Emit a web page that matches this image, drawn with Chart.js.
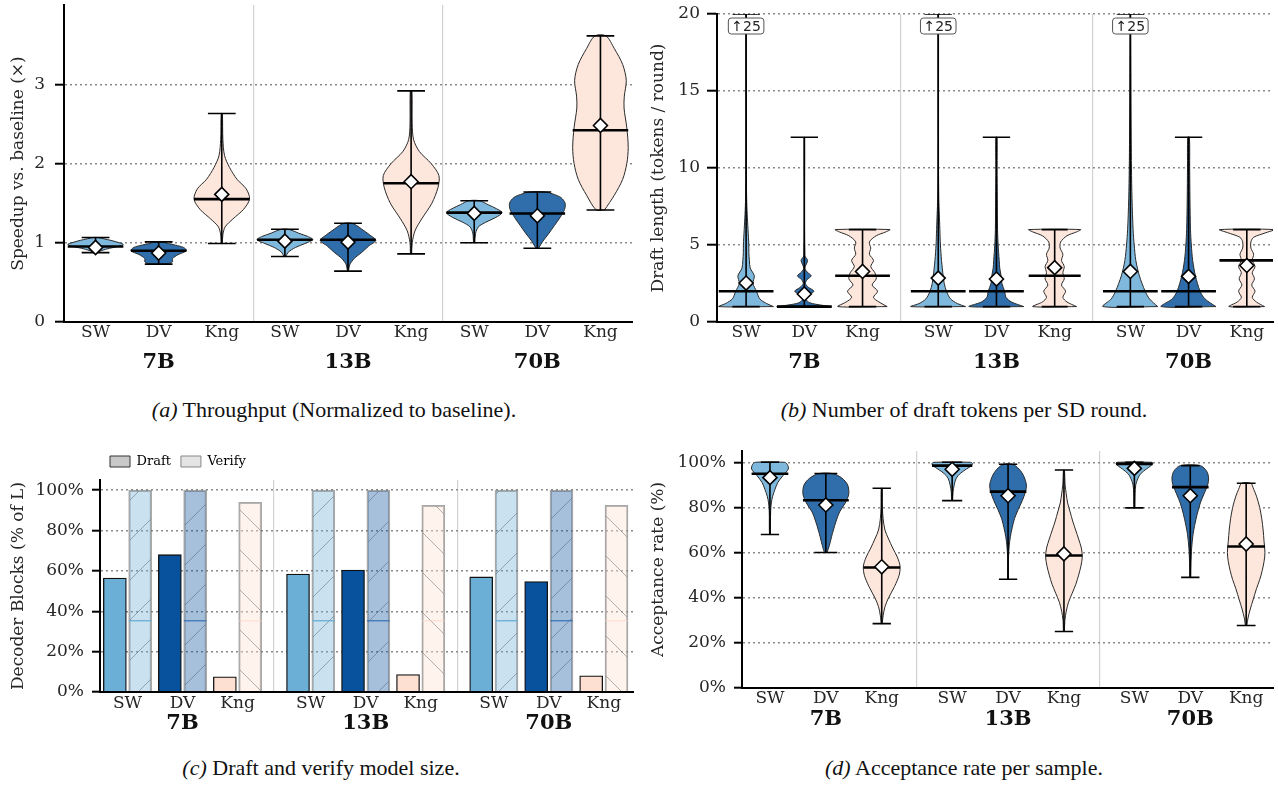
<!DOCTYPE html>
<html>
<head>
<meta charset="utf-8">
<script src="https://cdn.jsdelivr.net/npm/chart.js@4.4.1/dist/chart.umd.min.js"></script>
<style>
    body { margin: 0; background: #fff; }
    #page { position: relative; width: 1278px; height: 786px; overflow: hidden; }
    canvas { position: absolute; }
    .caption {
        position: absolute; width: 640px; line-height: 24px; text-align: center;
        font-family: 'Liberation Serif', 'Times New Roman', serif; font-size: 22px; color: #111;
    }
</style>
</head>
<body>
<div id="page">
    <canvas id="speedupChart" width="640" height="385" style="left:0;top:0"></canvas>
    <canvas id="draftLenChart" width="638" height="385" style="left:640px;top:0"></canvas>
    <canvas id="blocksChart" width="640" height="320" style="left:0;top:430px"></canvas>
    <canvas id="acceptChart" width="638" height="320" style="left:640px;top:430px"></canvas>
    <div class="caption" style="left:14px;top:398px"><i>(a)</i> Throughput (Normalized to baseline).</div>
    <div class="caption" style="left:644px;top:398px"><i>(b)</i> Number of draft tokens per SD round.</div>
    <div class="caption" style="left:1px;top:756px"><i>(c)</i> Draft and verify model size.</div>
    <div class="caption" style="left:644px;top:756px"><i>(d)</i> Acceptance rate per sample.</div>
</div>
<script>
const categories = ['SW', 'DV', 'Kng'];
const groups = ['7B', '13B', '70B'];

// every series below is ordered 7B SW, DV, Kng, 13B SW, DV, Kng, 70B SW, DV, Kng

// (a) speedup vs baseline
const speedupMin = [0.875, 0.73, 0.99, 0.826, 0.642, 0.86, 1.0, 0.93, 1.414];
const speedupMax = [1.066, 1.011, 2.63, 1.171, 1.247, 2.917, 1.53, 1.64, 3.61];
const speedupMedian = [0.952, 0.9, 1.55, 1.037, 1.037, 1.75, 1.38, 1.37, 2.42];
const speedupMean = [0.94, 0.87, 1.61, 1.02, 1.008, 1.77, 1.37, 1.34, 2.48];
// density profile: [value, relative half width]
const speedupShape = [
    [[0.875, 0.04], [0.9, 0.2], [0.93, 0.5], [0.96, 0.9], [0.98, 1], [1.0, 0.85], [1.03, 0.55], [1.05, 0.3], [1.066, 0.08]],
    [[0.73, 0.3], [0.76, 0.5], [0.8, 0.5], [0.85, 0.7], [0.9, 1], [0.94, 0.9], [0.97, 0.6], [0.99, 0.35], [1.011, 0.1]],
    [[0.99, 0.02], [1.1, 0.04], [1.2, 0.12], [1.3, 0.4], [1.42, 0.78], [1.55, 1], [1.68, 0.88], [1.8, 0.55], [1.95, 0.28], [2.1, 0.1], [2.3, 0.04], [2.63, 0.02]],
    [[0.826, 0.03], [0.88, 0.12], [0.94, 0.38], [0.99, 0.72], [1.04, 1], [1.08, 0.82], [1.12, 0.5], [1.15, 0.3], [1.171, 0.1]],
    [[0.642, 0.02], [0.72, 0.06], [0.8, 0.22], [0.88, 0.5], [0.96, 0.75], [1.03, 1], [1.1, 0.78], [1.17, 0.5], [1.22, 0.3], [1.247, 0.12]],
    [[0.86, 0.02], [1.0, 0.04], [1.15, 0.14], [1.3, 0.38], [1.5, 0.75], [1.7, 0.97], [1.85, 1], [2.0, 0.72], [2.15, 0.3], [2.3, 0.09], [2.5, 0.04], [2.917, 0.03]],
    [[1.0, 0.02], [1.12, 0.05], [1.2, 0.15], [1.26, 0.42], [1.32, 0.78], [1.38, 1], [1.43, 0.8], [1.48, 0.5], [1.53, 0.2]],
    [[0.93, 0.04], [1.02, 0.2], [1.12, 0.42], [1.22, 0.62], [1.32, 0.82], [1.42, 0.98], [1.5, 1], [1.57, 0.85], [1.61, 0.6], [1.64, 0.3]],
    [[1.414, 0.15], [1.6, 0.5], [1.8, 0.8], [2.0, 0.95], [2.2, 1], [2.45, 0.95], [2.7, 0.85], [2.85, 0.86], [3.05, 0.93], [3.25, 0.8], [3.45, 0.5], [3.61, 0.2]]
];

// (b) draft tokens per SD round
const draftLenMin = [1, 1, 1, 1, 1, 1, 1, 1, 1];
const draftLenMax = [25, 12, 6, 25, 12, 6, 25, 12, 6];
const draftLenMedian = [2, 1, 3, 2, 2, 3, 2, 2, 4];
const draftLenMean = [2.53, 1.82, 3.28, 2.85, 2.79, 3.53, 3.28, 2.96, 3.67];
const draftLenShape = [
    [[1, 1], [1.2, 0.75], [1.5, 0.5], [2, 0.38], [2.5, 0.25], [3, 0.3], [3.5, 0.15], [4, 0.12], [4.5, 0.1], [5, 0.1], [6, 0.07], [7, 0.04], [8, 0.02], [10, 0.01], [25, 0.01]],
    [[1, 1], [1.1, 0.6], [1.25, 0.2], [1.5, 0.05], [1.75, 0.15], [2, 0.35], [2.25, 0.15], [2.5, 0.04], [2.75, 0.1], [3, 0.25], [3.25, 0.1], [3.5, 0.02], [4, 0.12], [4.3, 0.02], [12, 0.01]],
    [[1, 0.9], [1.3, 0.6], [1.6, 0.4], [2, 0.55], [2.4, 0.35], [2.8, 0.5], [3.2, 0.45], [3.6, 0.3], [4, 0.4], [4.4, 0.25], [4.8, 0.3], [5.2, 0.25], [5.6, 0.5], [5.85, 0.85], [6, 1]],
    [[1, 1], [1.2, 0.7], [1.5, 0.45], [2, 0.3], [2.5, 0.22], [3, 0.18], [4, 0.12], [5, 0.08], [6, 0.06], [7, 0.04], [8, 0.02], [10, 0.01], [25, 0.01]],
    [[1, 1], [1.3, 0.55], [1.6, 0.35], [2, 0.3], [2.5, 0.2], [3, 0.17], [3.5, 0.12], [4, 0.1], [4.5, 0.08], [5, 0.06], [6, 0.04], [8, 0.03], [10, 0.02], [12, 0.02]],
    [[1, 0.8], [1.3, 0.45], [1.6, 0.3], [2, 0.4], [2.4, 0.25], [2.8, 0.35], [3.2, 0.3], [3.6, 0.35], [4, 0.25], [4.4, 0.3], [4.8, 0.2], [5.2, 0.22], [5.6, 0.45], [5.85, 0.8], [6, 0.95]],
    [[1, 1], [1.5, 0.7], [2, 0.54], [3, 0.33], [4, 0.2], [5, 0.14], [6, 0.1], [8, 0.06], [10, 0.04], [12, 0.03], [15, 0.02], [20, 0.01], [25, 0.01]],
    [[1, 1], [1.5, 0.6], [2, 0.42], [3, 0.25], [4, 0.15], [5, 0.1], [6, 0.07], [8, 0.05], [10, 0.04], [12, 0.03]],
    [[1, 0.65], [1.3, 0.35], [1.6, 0.2], [2, 0.3], [2.4, 0.18], [2.8, 0.28], [3.2, 0.2], [3.6, 0.3], [4, 0.2], [4.4, 0.25], [4.8, 0.15], [5.2, 0.15], [5.5, 0.25], [5.8, 0.7], [6, 1]]
];

// (c) decoder blocks, % of L
const draftBlocks = [56.4, 68, 7.5, 58.4, 60.4, 8.6, 57, 54.7, 8];
const verifyBlocks = [100, 100, 94, 100, 100, 92.5, 100, 100, 92.5];
const verifySplit = [35.3, 35.3, 35.3, 35.3, 35.3, 35.3, 35.3, 35.3, 35.3];

// (d) acceptance rate, %
const acceptMin = [68, 60, 28.5, 83, 48.2, 25, 79.8, 49, 27.7];
const acceptMax = [100, 95, 88.5, 100, 99.1, 96.6, 100, 98.5, 90.7];
const acceptMedian = [94.9, 83.2, 53.4, 98.5, 87, 58.7, 99.3, 89, 62.7];
const acceptMean = [93.2, 81.1, 53.7, 96.9, 85.2, 59.4, 97.3, 85.2, 63.8];
const acceptShape = [
    [[68, 0.02], [78, 0.03], [82, 0.06], [85, 0.12], [88, 0.22], [91, 0.34], [94, 0.56], [97, 0.8], [99, 0.76], [100, 0.64]],
    [[60, 0.05], [63, 0.15], [67, 0.25], [70, 0.33], [74, 0.45], [78, 0.6], [82, 0.85], [86, 1], [90, 0.95], [93, 0.7], [95, 0.3]],
    [[28.5, 0.02], [32, 0.06], [36, 0.14], [40, 0.3], [45, 0.56], [50, 0.76], [54, 0.8], [58, 0.68], [62, 0.48], [66, 0.3], [70, 0.14], [75, 0.06], [80, 0.03], [88.5, 0.02]],
    [[83, 0.02], [87, 0.04], [90, 0.09], [93, 0.18], [95, 0.35], [97, 0.62], [98.5, 0.84], [99.5, 0.88], [100, 0.8]],
    [[48.2, 0.02], [58, 0.02], [63, 0.05], [67, 0.1], [71, 0.18], [75, 0.28], [79, 0.44], [83, 0.62], [87, 0.76], [90, 0.8], [94, 0.68], [97, 0.48], [99.1, 0.2]],
    [[25, 0.02], [30, 0.04], [34, 0.1], [38, 0.2], [42, 0.36], [46, 0.52], [50, 0.64], [54, 0.74], [58, 0.8], [62, 0.76], [66, 0.64], [70, 0.51], [74, 0.38], [78, 0.27], [82, 0.16], [86, 0.1], [90, 0.05], [96.6, 0.02]],
    [[79.8, 0.02], [86, 0.03], [90, 0.06], [93, 0.16], [95, 0.28], [97, 0.52], [98.5, 0.72], [99.5, 0.8], [100, 0.76]],
    [[49, 0.02], [55, 0.03], [62, 0.06], [68, 0.12], [72, 0.19], [77, 0.3], [82, 0.44], [86, 0.6], [90, 0.76], [93, 0.8], [96, 0.72], [98.5, 0.44]],
    [[27.7, 0.03], [31, 0.08], [35, 0.18], [39, 0.3], [44, 0.45], [48, 0.59], [52, 0.7], [56, 0.78], [60, 0.82], [65, 0.78], [70, 0.74], [75, 0.68], [80, 0.59], [85, 0.45], [88, 0.33], [90.7, 0.2]]
];

const violinColors = ['#7fb8dd', '#2f6eab', '#fde6dc'];
const barColors = ['#6baed6', '#08519c', '#fee0d2'];
const verifyColors = ['rgba(107,174,214,0.36)', 'rgba(8,81,156,0.36)', 'rgba(254,224,210,0.4)'];
const splitColors = ['rgba(107,174,214,0.9)', 'rgba(50,110,180,0.8)', 'rgba(253,210,195,0.5)'];

const serif = "'DejaVu Serif', serif";
const tickFont = {family: serif, size: 17};
const groupFont = {family: serif, size: 21, weight: 'bold'};

// x slot of each violin / bar pair, groups separated by a wider gap
function slots(gap) {
    const out = [];
    groups.forEach((g, gi) => categories.forEach((c, ci) => out.push(gi * gap + ci)));
    return out;
}

function buildScales(p) {
    const edge = {type: 'linear', min: -0.5, max: p.xMax, bounds: 'data', offset: false};

    return {
        x: {
            ...edge,
            weight: 0,
            grid: {display: false, drawTicks: false, offset: false},
            border: {color: '#000', width: 2, z: 1},
            ticks: {
                autoSkip: false, maxRotation: 0, padding: p.tickPad, color: '#262626', font: tickFont,
                callback: (v, i) => categories[i % categories.length]
            },
            afterBuildTicks: s => { s.ticks = p.pos.map(value => ({value})); },
            afterFit: s => { s.height = p.xHeight; s.paddingLeft = 0; s.paddingRight = 0; }
        },
        xg: {
            ...edge,
            position: 'bottom',
            weight: 1,
            grid: {display: false, drawTicks: false, offset: false},
            border: {display: false},
            ticks: {
                autoSkip: false, maxRotation: 0, padding: p.groupPad, color: '#111', font: groupFont,
                callback: (v, i) => groups[i]
            },
            afterBuildTicks: s => { s.ticks = groups.map((g, gi) => ({value: p.pos[gi * 3 + 1]})); },
            afterFit: s => { s.height = p.groupHeight; s.paddingLeft = 0; s.paddingRight = 0; }
        },
        xs: {
            ...edge,
            position: 'top',
            grid: {color: '#d2d2d2', lineWidth: 1.2, drawTicks: false, offset: false},
            border: {display: false},
            ticks: {display: false},
            afterBuildTicks: s => {
                s.ticks = [(p.pos[2] + p.pos[3]) / 2, (p.pos[5] + p.pos[6]) / 2].map(value => ({value}));
            },
            afterFit: s => { s.height = p.topGap || 0; }
        },
        y: {
            type: 'linear',
            min: p.yMin,
            max: p.yMax,
            bounds: 'data',
            grid: {color: '#8a8a8a', lineWidth: 1.4, tickLength: p.tickLen, tickColor: '#000', tickWidth: 2},
            border: {color: '#000', width: 2, dash: [2, 3]},
            ticks: {stepSize: p.yStep, padding: p.yPad, color: '#262626', font: tickFont, callback: p.yFormat},
            title: {display: true, text: p.yLabel, color: '#262626', font: tickFont, padding: {top: 8, bottom: 0}},
            afterBuildTicks: s => { s.ticks = s.ticks.filter(t => t.value <= p.yTop); },
            afterFit: s => { s.width = p.yWidth; s.paddingTop = 0; s.paddingBottom = 0; }
        }
    };
}

function violinPanel(id, p, plugins) {
    const halfWidths = p.shapes.map(shape => Math.max(...shape.map(r => r[1])) * p.halfWidth);

    const bodies = p.shapes.map((shape, k) => {
        const right = shape.map(([v, w]) => ({x: p.pos[k] + w * p.halfWidth, y: v}));
        const left = shape.slice().reverse().map(([v, w]) => ({x: p.pos[k] - w * p.halfWidth, y: v}));
        return {
            type: 'line',
            data: [...right, ...left, right[0]],
            backgroundColor: violinColors[k % 3],
            borderColor: '#2a2a2a',
            borderWidth: 1,
            fill: 'shape',
            tension: 0.3,
            pointRadius: 0,
            order: 3
        };
    });

    const whiskers = [];
    const medians = [];
    p.pos.forEach((x, k) => {
        const hi = Math.min(p.maxs[k], p.yMax);
        const lo = p.mins[k];
        const cap = halfWidths[k] / 2;
        whiskers.push({x, y: lo}, {x, y: hi}, {x, y: null},
            {x: x - cap, y: lo}, {x: x + cap, y: lo}, {x, y: null},
            {x: x - cap, y: hi}, {x: x + cap, y: hi}, {x, y: null});
        medians.push({x: x - halfWidths[k], y: p.medians[k]}, {x: x + halfWidths[k], y: p.medians[k]}, {x, y: null});
    });

    const datasets = [
        {
            type: 'line',
            data: p.pos.map((x, k) => ({x, y: p.means[k]})),
            showLine: false,
            pointStyle: 'rectRot',
            pointRadius: 7,
            pointBackgroundColor: '#fff',
            pointBorderColor: '#000',
            pointBorderWidth: 1.6,
            order: 0
        },
        {type: 'line', data: medians, borderColor: '#000', borderWidth: 2.6, pointRadius: 0, order: 1},
        {type: 'line', data: whiskers, borderColor: '#000', borderWidth: 1.6, pointRadius: 0, order: 2},
        ...bodies
    ];

    return new Chart(document.getElementById(id), {
        type: 'line',
        data: {datasets},
        options: {
            responsive: false,
            animation: false,
            events: [],
            layout: {padding: p.padding, autoPadding: false},
            scales: buildScales(p),
            plugins: {legend: {display: false}, tooltip: {enabled: false}}
        },
        plugins: plugins || []
    });
}

const speedupPos = slots(3);
const draftLenPos = slots(3.3);
const blocksPos = slots(3.33);
const acceptPos = slots(3.26);

violinPanel('speedupChart', {
    pos: speedupPos, xMax: 8.5, halfWidth: 0.44,
    shapes: speedupShape, mins: speedupMin, maxs: speedupMax, medians: speedupMedian, means: speedupMean,
    yMin: 0, yMax: 4, yStep: 1, yTop: 3, yFormat: v => v, yLabel: 'Speedup vs. baseline (\u00d7)',
    yWidth: 64, tickLen: 9, yPad: 10, xHeight: 24, groupHeight: 39, tickPad: 0, groupPad: 4,
    padding: {left: 0, right: 8, top: 5, bottom: 0}
});

// SW drafts run past the axis top: tag them with their real maximum
const overflowBadge = {
    id: 'overflowBadge',
    afterDatasetsDraw(chart) {
        const {ctx, scales: {x, y}} = chart;
        ctx.save();
        ctx.font = "14px 'DejaVu Sans', sans-serif";
        draftLenMax.forEach((m, k) => {
            if (m <= y.max) {
                return;
            }
            const label = '\u2191' + m;
            const cx = x.getPixelForValue(draftLenPos[k]);
            const cy = y.getPixelForValue(y.max) + 12;
            const w = ctx.measureText(label).width + 6;
            ctx.beginPath();
            ctx.roundRect(cx - w / 2, cy - 8, w, 16, 3);
            ctx.fillStyle = '#fff';
            ctx.fill();
            ctx.lineWidth = 1;
            ctx.strokeStyle = '#555';
            ctx.stroke();
            ctx.fillStyle = '#222';
            ctx.textAlign = 'center';
            ctx.textBaseline = 'middle';
            ctx.fillText(label, cx, cy + 1);
        });
        ctx.restore();
    }
};

violinPanel('draftLenChart', {
    pos: draftLenPos, xMax: 9.05, halfWidth: 0.47,
    shapes: draftLenShape, mins: draftLenMin, maxs: draftLenMax, medians: draftLenMedian, means: draftLenMean,
    yMin: 0, yMax: 20, yStep: 5, yTop: 20, yFormat: v => v, yLabel: 'Draft length (tokens / round)',
    yWidth: 77, tickLen: 10, yPad: 7, xHeight: 24, groupHeight: 39, tickPad: 0, groupPad: 4,
    padding: {left: 0, right: 5, top: 14, bottom: 0}
}, [overflowBadge]);

violinPanel('acceptChart', {
    pos: acceptPos, xMax: 9.0, halfWidth: 0.41,
    shapes: acceptShape, mins: acceptMin, maxs: acceptMax, medians: acceptMedian, means: acceptMean,
    yMin: 0, yMax: 105, yStep: 20, yTop: 100, yFormat: v => v + '%', yLabel: 'Acceptance rate (%)',
    yWidth: 102, tickLen: 8, yPad: 8, xHeight: 22, groupHeight: 40, tickPad: 0, groupPad: -3,
    padding: {left: 0, right: 5, top: 21, bottom: 0}
});

// (c) bars
const blocksCanvas = document.getElementById('blocksChart');
const blocksCtx = blocksCanvas.getContext('2d');

function hatch(color, dir) {
    const tile = document.createElement('canvas');
    tile.width = 40;
    tile.height = 40;
    const c = tile.getContext('2d');
    c.fillStyle = color;
    c.fillRect(0, 0, 40, 40);
    c.strokeStyle = 'rgba(70,80,95,0.55)';
    c.lineWidth = 0.8;
    c.beginPath();
    if (dir === '/') {
        c.moveTo(0, 40);
        c.lineTo(40, 0);
    } else {
        c.moveTo(0, 0);
        c.lineTo(40, 40);
    }
    c.stroke();
    return blocksCtx.createPattern(tile, 'repeat');
}

const verifyPatterns = [hatch(verifyColors[0], '/'), hatch(verifyColors[1], '/'), hatch(verifyColors[2], '\\')];
const legendHatch = hatch('#e4e4e4', '/');

new Chart(blocksCanvas, {
    type: 'bar',
    data: {
        datasets: [
            {
                label: 'split',
                data: blocksPos.map((x, k) => ({x: x + 0.23, y: [verifySplit[k] - 0.2, verifySplit[k] + 0.2]})),
                backgroundColor: blocksPos.map((x, k) => splitColors[k % 3]),
                borderWidth: 0,
                barThickness: 22,
                grouped: false,
                order: 0
            },
            {
                label: 'Draft',
                data: blocksPos.map((x, k) => ({x: x - 0.23, y: draftBlocks[k]})),
                backgroundColor: blocksPos.map((x, k) => barColors[k % 3]),
                borderColor: '#111',
                borderWidth: 1.3,
                barThickness: 23,
                grouped: false,
                order: 1
            },
            {
                label: 'Verify',
                data: blocksPos.map((x, k) => ({x: x + 0.23, y: verifyBlocks[k]})),
                backgroundColor: blocksPos.map((x, k) => verifyPatterns[k % 3]),
                borderColor: 'rgba(110,110,110,0.6)',
                borderWidth: 1.5,
                barThickness: 23,
                grouped: false,
                order: 2
            }
        ]
    },
    options: {
        responsive: false,
        animation: false,
        events: [],
        layout: {padding: {left: 0, right: 7, top: 15, bottom: 0}, autoPadding: false},
        scales: buildScales({
            pos: blocksPos, xMax: 9.19,
            yMin: 0, yMax: 105, yStep: 20, yTop: 100, yFormat: v => v + '%', yLabel: 'Decoder Blocks (% of L)',
            yWidth: 100, tickLen: 8, yPad: 8, xHeight: 22, groupHeight: 36, tickPad: 1, groupPad: -3, topGap: 2
        }),
        plugins: {
            tooltip: {enabled: false},
            legend: {
                display: true,
                position: 'top',
                align: 'start',
                fullSize: false,
                labels: {
                    boxWidth: 20,
                    boxHeight: 11,
                    padding: 10,
                    color: '#222',
                    font: {family: serif, size: 13},
                    generateLabels: () => [
                        {text: 'Draft', fillStyle: '#c8c8c8', strokeStyle: '#333', lineWidth: 1, hidden: false, datasetIndex: 1},
                        {text: 'Verify', fillStyle: legendHatch, strokeStyle: '#888', lineWidth: 1, hidden: false, datasetIndex: 2}
                    ]
                }
            }
        }
    }
});
</script>
</body>
</html>
